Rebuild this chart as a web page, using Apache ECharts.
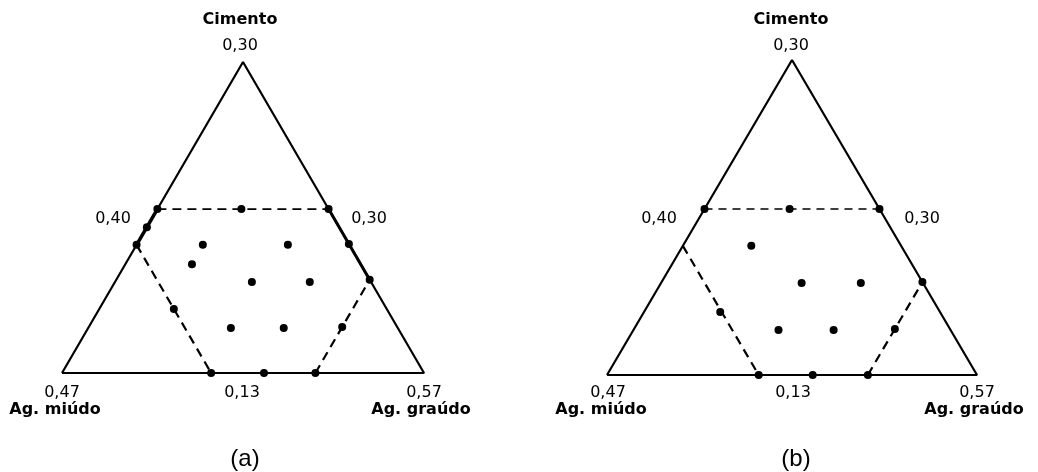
<!DOCTYPE html>
<html>
<head>
<meta charset="utf-8">
<script src="https://cdn.jsdelivr.net/npm/echarts@6/dist/echarts.min.js"></script>
<style>
  html, body { margin: 0; padding: 0; background: #fff; }
  #chart { width: 1038px; height: 472px; }
</style>
</head>
<body>
<div id="chart"></div>
<script>
// pseudo-component fractions: [cimento, ag. graudo]  (ag. miudo = 1 - the two)
const triangle = [[0, 0], [0, 1], [1, 0], [0, 0]];

// (a)
const pointsA = [
  [0.527, 0], [0.527, 0.232], [0.527, 0.473],
  [0.469, 0], [0.412, 0],
  [0.206, 0.206],
  [0, 0.412], [0, 0.558], [0, 0.70],
  [0.148, 0.70], [0.30, 0.70], [0.415, 0.585],
  [0.412, 0.183], [0.412, 0.418], [0.35, 0.184],
  [0.293, 0.378], [0.293, 0.538], [0.145, 0.394], [0.145, 0.54]
];
const topA = [[0.527, 0], [0.527, 0.473]];
const leftA = [[0.412, 0], [0, 0.412]];
const rightA = [[0, 0.70], [0.30, 0.70]];
const edgeLeftA = [[0.527, 0], [0.412, 0]];
const edgeRightA = [[0.527, 0.473], [0.30, 0.70]];

// (b)
const pointsB = [
  [0.527, 0], [0.527, 0.23], [0.527, 0.473],
  [0.2, 0.206],
  [0, 0.41], [0, 0.556], [0, 0.705],
  [0.146, 0.705], [0.295, 0.705],
  [0.41, 0.185], [0.292, 0.38], [0.292, 0.54],
  [0.143, 0.392], [0.143, 0.541]
];
const topB = [[0.527, 0], [0.527, 0.473]];
const leftB = [[0.41, 0], [0, 0.41]];
const rightB = [[0, 0.705], [0.295, 0.705]];

// labels
const apexName = 'Cimento';
const leftName = 'Ag. miúdo';
const rightName = 'Ag. graúdo';
const apexValue = '0,30';
const leftValue = '0,47';
const rightValue = '0,57';
const baseValue = '0,13';
const leftSideValue = '0,40';
const rightSideValue = '0,30';

// ternary -> cartesian
const tern = ([c, g]) => [g + c / 2, c];

const chart = echarts.init(document.getElementById('chart'));

const axisOff = (i) => ({ type: 'value', min: 0, max: 1, show: false, gridIndex: i });

function lineS(i, data, width, type) {
  return {
    type: 'line', xAxisIndex: i, yAxisIndex: i,
    data: data.map(tern), symbol: 'none', silent: true,
    lineStyle: { color: '#000', width: width, type: type || 'solid' },
    z: 2
  };
}

function dotsS(i, data) {
  return {
    type: 'scatter', xAxisIndex: i, yAxisIndex: i,
    data: data.map(tern), symbolSize: 8,
    itemStyle: { color: '#000', opacity: 1 }, z: 5
  };
}

const numFont = '16px "DejaVu Sans"';
const nameFont = 'bold 16px "DejaVu Sans"';

function txt(x, y, text, font) {
  return {
    type: 'text', x: x, y: y,
    style: { text: text, font: font, fill: '#000', align: 'center', verticalAlign: 'middle' }
  };
}

const labels = [];
[
  { cx: 240, left: 63, right: 425, cap: '(a)' },
  { cx: 791, left: 609, right: 978, cap: '(b)' }
].forEach((p) => {
  labels.push(txt(p.cx, 20, apexName, nameFont));
  labels.push(txt(p.cx, 46, apexValue, numFont));
  labels.push(txt(p.left + 50, 219, leftSideValue, numFont));
  labels.push(txt(p.right - 56, 219, rightSideValue, numFont));
  labels.push(txt(p.left - 1, 393, leftValue, numFont));
  labels.push(txt(p.left - 8, 410, leftName, nameFont));
  labels.push(txt(p.cx + 2, 393, baseValue, numFont));
  labels.push(txt(p.right - 1, 393, rightValue, numFont));
  labels.push(txt(p.right - 4, 410, rightName, nameFont));
  labels.push(txt(p.cx + 5, 459, p.cap, '24px "Liberation Sans"'));
});

const option = {
  animation: false,
  grid: [
    { left: 62, top: 62, width: 362, height: 311 },
    { left: 607, top: 60, width: 370, height: 315 }
  ],
  xAxis: [axisOff(0), axisOff(1)],
  yAxis: [axisOff(0), axisOff(1)],
  graphic: labels,
  series: [
    lineS(0, triangle, 2.2),
    lineS(0, edgeLeftA, 3.5),
    lineS(0, edgeRightA, 3),
    lineS(0, topA, 1.6, [9, 6]),
    lineS(0, leftA, 2.2, [9, 6]),
    lineS(0, rightA, 2.2, [9, 6]),
    dotsS(0, pointsA),
    lineS(1, triangle, 2.2),
    lineS(1, topB, 1.4, [8, 6]),
    lineS(1, leftB, 2.2, [9, 6]),
    lineS(1, rightB, 2.2, [9, 6]),
    dotsS(1, pointsB)
  ]
};

chart.setOption(option);
</script>
</body>
</html>
